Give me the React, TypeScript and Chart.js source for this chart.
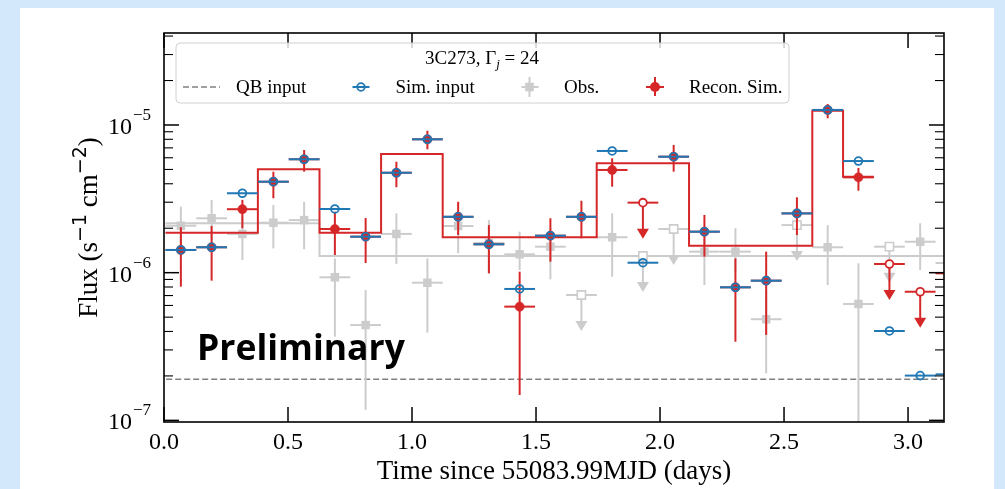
import { useEffect, useRef } from "react";
import { Chart, registerables } from "chart.js";

Chart.register(...registerables);

// ---------------- data ----------------
const times = [0.068, 0.192, 0.316, 0.441, 0.565, 0.689, 0.813, 0.937, 1.062, 1.186, 1.31, 1.434, 1.558, 1.683, 1.807, 1.931, 2.055, 2.179, 2.304, 2.428, 2.552, 2.676, 2.8, 2.925, 3.049, 3.173];
const binHalfWidth = 0.062;

const simInput = [1.425e-6, 1.486e-6, 3.45e-6, 4.13e-6, 5.86e-6, 2.7e-6, 1.753e-6, 4.75e-6, 8.0e-6, 2.39e-6, 1.557e-6, 7.76e-7, 1.78e-6, 2.39e-6, 6.67e-6, 1.168e-6, 6.1e-6, 1.895e-6, 7.96e-7, 8.83e-7, 2.52e-6, 1.264e-5, 5.7e-6, 4.03e-7, 2.01e-7, 2.05e-7];

const reconValue = [1.425e-6, 1.486e-6, 2.69e-6, 4.13e-6, 5.86e-6, 1.976e-6, 1.753e-6, 4.75e-6, 8.0e-6, 2.39e-6, 1.557e-6, 5.89e-7, 1.78e-6, 2.39e-6, 4.96e-6, 2.98e-6, 6.1e-6, 1.895e-6, 7.96e-7, 8.83e-7, 2.52e-6, 1.264e-5, 4.42e-6, 1.145e-6, 7.43e-7, 9.9e-7];
const reconLow = [8.04e-7, 8.83e-7, 2.0e-6, 3.19e-6, 4.83e-6, 1.317e-6, 1.163e-6, 3.79e-6, 6.85e-6, 1.8e-6, 9.9e-7, 1.486e-7, 1.187e-6, 1.71e-6, 3.82e-6, null, 4.83e-6, 1.283e-6, 3.41e-7, 3.79e-7, 1.8e-6, 1.11e-5, 3.59e-6, null, null, null];
const reconHigh = [2.03e-6, 2.07e-6, 3.11e-6, 4.83e-6, 6.77e-6, 2.59e-6, 2.345e-6, 5.64e-6, 9.15e-6, 3.02e-6, 2.1e-6, 1.016e-6, 2.335e-6, 3.07e-6, 5.95e-6, null, 7.32e-6, 2.46e-6, 1.25e-6, 1.388e-6, 3.24e-6, 1.388e-5, 5.12e-6, null, null, null];
const reconUpperLimit = [false, false, false, false, false, false, false, false, false, false, false, false, false, false, false, true, false, false, false, false, false, false, false, true, true, true];

const obsValue = [2.08e-6, 2.335e-6, 1.83e-6, 2.18e-6, 2.27e-6, 9.31e-7, 4.42e-7, 1.83e-6, 8.55e-7, 2.07e-6, 1.59e-6, 1.332e-6, 1.5e-6, 7.06e-7, 1.737e-6, 1.297e-6, 1.976e-6, 1.388e-6, 1.388e-6, 4.84e-7, 2.1e-6, 1.486e-6, 6.14e-7, 1.5e-6, 1.62e-6, 1.163e-6];
const obsLow = [1.47e-6, 1.665e-6, 1.22e-6, 1.46e-6, 1.44e-6, 3.69e-7, 1.18e-7, 1.145e-6, 3.93e-7, 1.353e-6, 9.9e-7, 1.043e-6, 9.02e-7, null, 9.39e-7, null, null, 8.25e-7, 1.0e-6, 2.08e-7, null, 8.25e-7, 5e-8, null, 1.043e-6, 8e-7];
const obsHigh = [2.8e-6, 3.11e-6, 2.4e-6, 2.87e-6, 3.02e-6, 1.25e-6, 7.63e-7, 2.52e-6, 1.25e-6, 2.345e-6, 2.27e-6, 1.895e-6, 2.0e-6, null, 2.52e-6, null, null, 1.7e-6, 2.0e-6, 7.63e-7, null, 2.1e-6, 1.158e-6, null, 2.16e-6, 1.6e-6];
const obsUpperLimit = [false, false, false, false, false, false, false, false, false, false, false, false, false, true, false, true, true, false, false, false, true, false, false, true, false, false];

const reconBlockEdges = [0.006, 0.3785, 0.627, 0.8753, 1.1237, 1.7447, 2.117, 2.614, 2.738, 2.862];
const reconBlockLevels = [1.866e-6, 5.01e-6, 1.866e-6, 6.36e-6, 1.74e-6, 5.5e-6, 1.52e-6, 1.25e-5, 4.47e-6];
const obsBlockEdges = [0.006, 0.627, 3.3];
const obsBlockLevels = [2.16e-6, 1.297e-6];
const qbInput = 1.9e-7;

const xTicks = [0, 0.5, 1.0, 1.5, 2.0, 2.5, 3.0];
const xTickLabels = ["0.0", "0.5", "1.0", "1.5", "2.0", "2.5", "3.0"];
const yTickExponents = [-7, -6, -5];

// ---------------- styles ----------------
const BLUE = "#1f77b4";
const RED = "#d62728";
const LGREY = "#cccccc";
const DGREY = "#808080";
const SERIF = '"Liberation Serif", "Times New Roman", serif';
const SANS = '"DejaVu Sans", sans-serif';

function stepPoints(edges: number[], levels: number[]) {
  const pts: { x: number; y: number }[] = [];
  levels.forEach((lv, i) => {
    pts.push({ x: edges[i], y: lv });
    pts.push({ x: edges[i + 1], y: lv });
  });
  return pts;
}

function drawArrow(ctx: CanvasRenderingContext2D, px: number, py: number, color: string, lw: number) {
  const len = 36;
  const headH = 10;
  const headW = 6;
  ctx.strokeStyle = color;
  ctx.fillStyle = color;
  ctx.lineWidth = lw;
  ctx.beginPath();
  ctx.moveTo(px, py);
  ctx.lineTo(px, py + len - headH + 1);
  ctx.stroke();
  ctx.beginPath();
  ctx.moveTo(px - headW, py + len - headH);
  ctx.lineTo(px + headW, py + len - headH);
  ctx.lineTo(px, py + len);
  ctx.closePath();
  ctx.fill();
}

const errorBarPlugin = {
  id: "errorBars",
  beforeDatasetDraw(chart: any, args: any) {
    const ds = chart.data.datasets[args.index];
    const bars = ds.bars;
    if (!bars) return;
    const { ctx, chartArea: a } = chart;
    const xs = chart.scales.x;
    const ys = chart.scales.y;
    ctx.save();
    ctx.beginPath();
    ctx.rect(a.left, a.top, a.right - a.left, a.bottom - a.top);
    ctx.clip();
    ctx.lineCap = "butt";
    ds.data.forEach((p: any) => {
      const px = xs.getPixelForValue(p.x);
      const py = ys.getPixelForValue(p.y);
      ctx.strokeStyle = bars.color;
      ctx.lineWidth = bars.width;
      ctx.beginPath();
      ctx.moveTo(xs.getPixelForValue(p.x - binHalfWidth), py);
      ctx.lineTo(xs.getPixelForValue(p.x + binHalfWidth), py);
      ctx.stroke();
      if (p.lo != null && p.hi != null) {
        ctx.beginPath();
        ctx.moveTo(px, ys.getPixelForValue(p.lo));
        ctx.lineTo(px, ys.getPixelForValue(p.hi));
        ctx.stroke();
      }
      if (bars.arrow) drawArrow(ctx, px, py, bars.color, bars.width);
    });
    ctx.restore();
  },
};

function line(ctx: CanvasRenderingContext2D, x0: number, y0: number, x1: number, y1: number) {
  ctx.beginPath();
  ctx.moveTo(x0, y0);
  ctx.lineTo(x1, y1);
  ctx.stroke();
}

type Part = { t: string; size: number; dy: number; italic?: boolean; family?: string };

function fontOf(p: Part) {
  return `${p.italic ? "italic " : ""}${p.size}px ${p.family || SERIF}`;
}

function partsWidth(ctx: CanvasRenderingContext2D, parts: Part[]) {
  let w = 0;
  parts.forEach((p) => {
    ctx.font = fontOf(p);
    w += ctx.measureText(p.t).width;
  });
  return w;
}

function drawParts(ctx: CanvasRenderingContext2D, parts: Part[], x: number, y: number) {
  let cx = x;
  parts.forEach((p) => {
    ctx.font = fontOf(p);
    ctx.fillText(p.t, cx, y + p.dy);
    cx += ctx.measureText(p.t).width;
  });
}

const decorPlugin = {
  id: "decor",
  afterDraw(chart: any) {
    const { ctx, chartArea: a } = chart;
    const xs = chart.scales.x;
    const ys = chart.scales.y;
    ctx.save();
    ctx.fillStyle = "#000";
    ctx.strokeStyle = "#000";

    // ticks (inward, all four sides)
    ctx.lineWidth = 1.5;
    xTicks.forEach((v) => {
      const px = xs.getPixelForValue(v);
      line(ctx, px, a.bottom, px, a.bottom - 15);
      line(ctx, px, a.top, px, a.top + 15);
    });
    for (let d = -8; d <= -4; d++) {
      for (let k = 1; k <= 9; k++) {
        const v = k * Math.pow(10, d);
        if (v < ys.min || v > ys.max) continue;
        const py = ys.getPixelForValue(v);
        const len = k === 1 ? 15 : 9;
        ctx.lineWidth = k === 1 ? 1.5 : 1.1;
        line(ctx, a.left, py, a.left + len, py);
        line(ctx, a.right, py, a.right - len, py);
      }
    }
    // frame
    ctx.lineWidth = 1.6;
    ctx.strokeRect(a.left, a.top, a.right - a.left, a.bottom - a.top);

    // x tick labels
    ctx.textAlign = "center";
    ctx.textBaseline = "alphabetic";
    ctx.font = `24px ${SERIF}`;
    xTicks.forEach((v, i) => {
      ctx.fillText(xTickLabels[i], xs.getPixelForValue(v), a.bottom + 27);
    });

    // y tick labels 10^n
    ctx.textAlign = "right";
    yTickExponents.forEach((e) => {
      const py = ys.getPixelForValue(Math.pow(10, e));
      const right = a.left - 13;
      ctx.font = `17px ${SERIF}`;
      const expText = "\u2212" + Math.abs(e);
      const ew = ctx.measureText(expText).width;
      ctx.fillText(expText, right, py - 5);
      ctx.font = `24px ${SERIF}`;
      ctx.fillText("10", right - ew - 1, py + 9);
    });

    // x title
    ctx.textAlign = "center";
    ctx.font = `27px ${SERIF}`;
    ctx.fillText("Time since 55083.99MJD (days)", (a.left + a.right) / 2, 479);

    // y title
    ctx.textAlign = "left";
    const yParts: Part[] = [
      { t: "Flux (s", size: 27, dy: 0 },
      { t: "\u22121", size: 19, dy: -11, family: SANS },
      { t: " cm", size: 27, dy: 0 },
      { t: "\u22122", size: 19, dy: -11, family: SANS },
      { t: ")", size: 27, dy: 0 },
    ];
    ctx.save();
    ctx.translate(97, (a.top + a.bottom) / 2);
    ctx.rotate(-Math.PI / 2);
    const yw = partsWidth(ctx, yParts);
    drawParts(ctx, yParts, -yw / 2, 0);
    ctx.restore();

    // Preliminary
    ctx.font = `bold 35.5px "Open Sans", sans-serif`;
    ctx.textAlign = "left";
    ctx.fillText("Preliminary", 197, 360);

    // legend box
    const bx = 176, by = 43, bw = 613, bh = 60, r = 4;
    ctx.beginPath();
    ctx.moveTo(bx + r, by);
    ctx.lineTo(bx + bw - r, by);
    ctx.quadraticCurveTo(bx + bw, by, bx + bw, by + r);
    ctx.lineTo(bx + bw, by + bh - r);
    ctx.quadraticCurveTo(bx + bw, by + bh, bx + bw - r, by + bh);
    ctx.lineTo(bx + r, by + bh);
    ctx.quadraticCurveTo(bx, by + bh, bx, by + bh - r);
    ctx.lineTo(bx, by + r);
    ctx.quadraticCurveTo(bx, by, bx + r, by);
    ctx.closePath();
    ctx.fillStyle = "rgba(255,255,255,0.8)";
    ctx.fill();
    ctx.strokeStyle = "#d0d0d0";
    ctx.lineWidth = 1;
    ctx.stroke();

    // legend title
    ctx.fillStyle = "#000";
    const tParts: Part[] = [
      { t: "3C273, ", size: 19, dy: 0 },
      { t: "\u0393", size: 19, dy: 0 },
      { t: "j", size: 13, dy: 4, italic: true },
      { t: " = ", size: 19, dy: 0 },
      { t: "24", size: 19, dy: 0 },
    ];
    const tw = partsWidth(ctx, tParts);
    drawParts(ctx, tParts, 482 - tw / 2, 64);

    const ly = 87;
    ctx.font = `19px ${SERIF}`;
    ctx.textBaseline = "middle";
    // QB input
    ctx.strokeStyle = DGREY;
    ctx.lineWidth = 1.5;
    ctx.setLineDash([6, 3]);
    line(ctx, 183, ly, 220, ly);
    ctx.setLineDash([]);
    ctx.fillText("QB input", 236, ly + 1);
    // Sim. input
    ctx.strokeStyle = BLUE;
    ctx.lineWidth = 2;
    line(ctx, 352.5, ly, 369.5, ly);
    ctx.beginPath();
    ctx.arc(361, ly, 3.8, 0, Math.PI * 2);
    ctx.lineWidth = 1.8;
    ctx.stroke();
    ctx.fillText("Sim. input", 395.5, ly + 1);
    // Obs.
    ctx.strokeStyle = LGREY;
    ctx.lineWidth = 2;
    line(ctx, 521.5, ly, 538.5, ly);
    line(ctx, 529.5, ly - 10, 529.5, ly + 10);
    ctx.fillStyle = LGREY;
    ctx.fillRect(529.5 - 4.3, ly - 4.3, 8.6, 8.6);
    ctx.fillStyle = "#000";
    ctx.fillText("Obs.", 564, ly + 1);
    // Recon. Sim.
    ctx.strokeStyle = RED;
    ctx.lineWidth = 2;
    line(ctx, 646, ly, 664, ly);
    line(ctx, 655, ly - 10, 655, ly + 9);
    ctx.fillStyle = RED;
    ctx.beginPath();
    ctx.arc(655, ly, 5, 0, Math.PI * 2);
    ctx.fill();
    ctx.fillStyle = "#000";
    ctx.fillText("Recon. Sim.", 689, ly + 1);

    ctx.restore();
  },
};

export default function App() {
  const ref = useRef<HTMLCanvasElement>(null);

  useEffect(() => {
    const canvas = ref.current;
    if (!canvas) return;
    const idx = times.map((_, i) => i);

    const obsDet = idx.filter((i) => !obsUpperLimit[i]).map((i) => ({ x: times[i], y: obsValue[i], lo: obsLow[i], hi: obsHigh[i] }));
    const obsUL = idx.filter((i) => obsUpperLimit[i]).map((i) => ({ x: times[i], y: obsValue[i], lo: null, hi: null }));
    const recDet = idx.filter((i) => !reconUpperLimit[i]).map((i) => ({ x: times[i], y: reconValue[i], lo: reconLow[i], hi: reconHigh[i] }));
    const recUL = idx.filter((i) => reconUpperLimit[i]).map((i) => ({ x: times[i], y: reconValue[i], lo: null, hi: null }));
    const sim = idx.map((i) => ({ x: times[i], y: simInput[i], lo: null, hi: null }));

    const chart = new Chart(canvas, {
      type: "scatter",
      data: {
        datasets: [
          {
            label: "QB input",
            data: [{ x: -0.1, y: qbInput }, { x: 3.3, y: qbInput }],
            showLine: true,
            borderColor: DGREY,
            borderWidth: 1.5,
            borderDash: [6, 3],
            pointRadius: 0,
            clip: 0,
            order: 10,
          } as any,
          {
            label: "Obs. blocks",
            data: stepPoints(obsBlockEdges, obsBlockLevels),
            showLine: true,
            borderColor: LGREY,
            borderWidth: 2,
            pointRadius: 0,
            clip: 0,
            order: 9,
          } as any,
          {
            label: "Obs.",
            data: obsDet,
            pointStyle: "rect",
            pointRadius: 6,
            backgroundColor: LGREY,
            borderColor: LGREY,
            borderWidth: 0,
            bars: { color: LGREY, width: 2, arrow: false },
            order: 8,
          } as any,
          {
            label: "Obs. UL",
            data: obsUL,
            pointStyle: "rect",
            pointRadius: 5.8,
            backgroundColor: "#ffffff",
            borderColor: LGREY,
            borderWidth: 1.6,
            bars: { color: LGREY, width: 2, arrow: true },
            order: 7,
          } as any,
          {
            label: "Recon. blocks",
            data: stepPoints(reconBlockEdges, reconBlockLevels),
            showLine: true,
            borderColor: RED,
            borderWidth: 2,
            pointRadius: 0,
            clip: 0,
            order: 6,
          } as any,
          {
            label: "Recon. Sim.",
            data: recDet,
            pointStyle: "circle",
            pointRadius: 4.6,
            backgroundColor: RED,
            borderColor: RED,
            borderWidth: 0.5,
            bars: { color: RED, width: 2, arrow: false },
            order: 5,
          } as any,
          {
            label: "Recon. UL",
            data: recUL,
            pointStyle: "circle",
            pointRadius: 3.9,
            backgroundColor: "#ffffff",
            borderColor: RED,
            borderWidth: 1.8,
            bars: { color: RED, width: 2, arrow: true },
            order: 4,
          } as any,
          {
            label: "Sim. input",
            data: sim,
            pointStyle: "circle",
            pointRadius: 3.9,
            backgroundColor: "rgba(0,0,0,0)",
            borderColor: BLUE,
            borderWidth: 1.8,
            bars: { color: BLUE, width: 2, arrow: false },
            order: 3,
          } as any,
        ],
      },
      options: {
        responsive: false,
        animation: false,
        devicePixelRatio: 1,
        events: [],
        layout: { padding: { left: 164, right: 61, top: 33, bottom: 67 } },
        plugins: { legend: { display: false }, tooltip: { enabled: false } },
        scales: {
          x: { type: "linear", min: 0, max: 3.145, display: false },
          y: { type: "logarithmic", min: 9.75e-8, max: 4.196e-5, display: false },
        },
      },
      plugins: [errorBarPlugin, decorPlugin],
    });
    return () => chart.destroy();
  }, []);

  return (
    <div style={{ position: "fixed", left: 0, top: 0, width: 1005, height: 489, background: "#d4e8fb", overflow: "hidden" }}>
      <div style={{ position: "absolute", left: 20, top: 8, width: 974, height: 481, background: "#ffffff" }} />
      <canvas ref={ref} width={1005} height={489} style={{ position: "absolute", left: 0, top: 0, display: "block" }} />
    </div>
  );
}
